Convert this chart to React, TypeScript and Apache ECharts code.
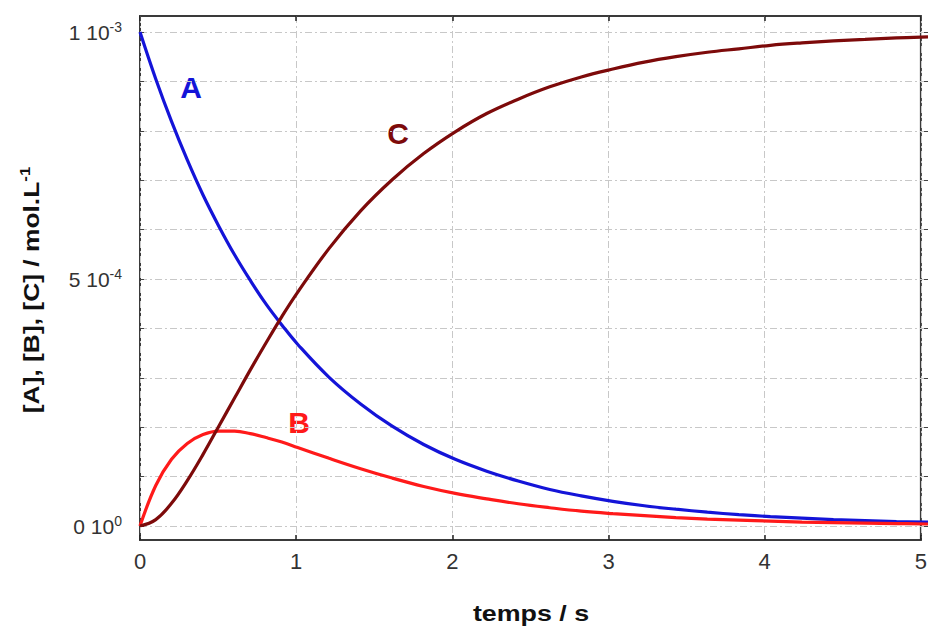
import React, { useEffect, useRef } from "react";
import * as echarts from "echarts";

// time (s)
const times = [0, 0.1, 0.2, 0.3, 0.4, 0.5, 0.6, 0.7, 0.8, 0.9, 1.0, 1.2, 1.4, 1.6, 1.8, 2.0, 2.2, 2.4, 2.6, 2.8, 3.0, 3.2, 3.4, 3.6, 3.8, 4.0, 4.2, 4.4, 4.6, 4.8, 5.0];
// concentrations in units of 1e-4 mol/L
const concA = [10, 9.05, 8.19, 7.41, 6.7, 6.07, 5.49, 4.97, 4.49, 4.07, 3.68, 3.01, 2.47, 2.02, 1.65, 1.35, 1.11, 0.91, 0.74, 0.61, 0.5, 0.41, 0.34, 0.28, 0.23, 0.19, 0.16, 0.13, 0.11, 0.09, 0.08];
const concB = [0, 0.82, 1.35, 1.67, 1.85, 1.92, 1.92, 1.87, 1.79, 1.7, 1.59, 1.37, 1.16, 0.97, 0.8, 0.66, 0.55, 0.45, 0.37, 0.3, 0.25, 0.21, 0.17, 0.14, 0.12, 0.1, 0.08, 0.07, 0.06, 0.05, 0.04];
const concC = [0, 0.13, 0.46, 0.92, 1.45, 2.02, 2.59, 3.16, 3.71, 4.24, 4.73, 5.62, 6.38, 7.01, 7.54, 7.98, 8.35, 8.64, 8.89, 9.09, 9.25, 9.39, 9.5, 9.59, 9.66, 9.73, 9.78, 9.82, 9.85, 9.88, 9.9];
const xTicks = [0, 1, 2, 3, 4, 5];
const yLabels: Record<number, [string, string]> = { 0: ["0 10", "0"], 5: ["5 10", "-4"], 10: ["1 10", "-3"] };

const BLUE = "#1414d8";
const RED = "#ff1a1a";
const MAROON = "#7d0a0a";
const FONT = "Liberation Sans, Arial";

export default function App() {
  const ref = useRef<HTMLDivElement>(null);
  useEffect(() => {
    document.body.style.margin = "0";
    const chart = echarts.init(ref.current!, null, { renderer: "svg" });
    const pairs = (ys: number[]) => times.map((t, i) => [t, ys[i]]);
    const gridLine = { show: true, lineStyle: { color: "#c8c8c8", width: 1, type: [7, 3, 2, 3] as any } };
    chart.setOption({
      animation: false,
      backgroundColor: "#ffffff",
      grid: [
        { left: 140, right: 2, top: 16, bottom: 87, show: true, borderColor: "#3a3a3a", borderWidth: 2, backgroundColor: "transparent" },
        { left: 140, right: 2, top: 32, bottom: 101 },
      ],
      xAxis: [
        {
          gridIndex: 0, type: "value", min: 0, max: 5, interval: 1, position: "bottom",
          axisLine: { show: false },
          axisTick: { show: true, inside: true, length: 5, lineStyle: { color: "#222", width: 1.5 } },
          axisLabel: { show: true, color: "#333", fontSize: 22, fontFamily: FONT, margin: 10, formatter: (v: number) => (xTicks.includes(v) ? String(v) : "") },
          splitLine: gridLine,
        },
        {
          gridIndex: 0, type: "value", min: 0, max: 5, interval: 1, position: "top",
          axisLine: { show: false },
          axisTick: { show: true, inside: true, length: 5, lineStyle: { color: "#222", width: 1.5 } },
          axisLabel: { show: false },
          splitLine: { show: false },
        },
        {
          gridIndex: 1, type: "value", min: 0, max: 5, interval: 1,
          show: false,
          splitLine: { show: false },
        },
      ],
      yAxis: [
        {
          gridIndex: 0, type: "value", min: 0, max: 1, show: false, splitLine: { show: false },
        },
        {
          gridIndex: 1, type: "value", min: 0, max: 10, interval: 1, position: "left",
          axisLine: { show: false },
          axisTick: { show: true, inside: true, length: 4, lineStyle: { color: "#444", width: 1 } },
          axisLabel: {
            show: true, margin: 18, color: "#333", fontFamily: FONT,
            formatter: (v: number) => (yLabels[v] ? `{n|${yLabels[v][0]}}{s|${yLabels[v][1]}}` : ""),
            rich: {
              n: { fontSize: 21, color: "#333", fontFamily: FONT },
              s: { fontSize: 14, color: "#333", fontFamily: FONT, padding: [0, 0, 11, 0] },
            },
          },
          splitLine: gridLine,
        },
        {
          gridIndex: 1, type: "value", min: 0, max: 10, interval: 1, position: "right",
          axisLine: { show: false },
          axisTick: { show: true, inside: true, length: 4, lineStyle: { color: "#444", width: 1 } },
          axisLabel: { show: false },
          splitLine: { show: false },
        },
      ],
      series: [
        { name: "A", type: "line", xAxisIndex: 2, yAxisIndex: 1, data: pairs(concA), smooth: 0.4, showSymbol: false, lineStyle: { color: BLUE, width: 3.2 }, z: 3 },
        { name: "B", type: "line", xAxisIndex: 2, yAxisIndex: 1, data: pairs(concB), smooth: 0.4, showSymbol: false, lineStyle: { color: RED, width: 3.2 }, z: 3 },
        { name: "C", type: "line", xAxisIndex: 2, yAxisIndex: 1, data: pairs(concC), smooth: 0.4, showSymbol: false, lineStyle: { color: MAROON, width: 3.2 }, z: 3 },
      ],
      graphic: [
        { type: "text", x: 191, y: 87, style: { text: "A", fill: BLUE, font: `bold 30px ${FONT}`, align: "center", verticalAlign: "middle" } },
        { type: "text", x: 398, y: 133, style: { text: "C", fill: MAROON, font: `bold 30px ${FONT}`, align: "center", verticalAlign: "middle" } },
        { type: "text", x: 299, y: 422, style: { text: "B", fill: RED, font: `bold 30px ${FONT}`, align: "center", verticalAlign: "middle" } },
        { type: "text", x: 531, y: 613, scaleX: 1.22, style: { text: "temps / s", fill: "#111", font: `bold 22px ${FONT}`, align: "center", verticalAlign: "middle" } },
        {
          type: "text", x: 31, y: 290, rotation: Math.PI / 2, scaleX: 1.2,
          style: {
            text: "{m|[A], [B], [C] / mol.L}{s|-1}",
            align: "center", verticalAlign: "middle", fill: "#111",
            rich: {
              m: { font: `bold 22px ${FONT}`, fill: "#111" },
              s: { font: `bold 14px ${FONT}`, fill: "#111", padding: [0, 0, 12, 0] },
            },
          } as any,
        },
      ],
    });
    return () => chart.dispose();
  }, []);
  return <div ref={ref} style={{ width: 930, height: 627 }} />;
}
